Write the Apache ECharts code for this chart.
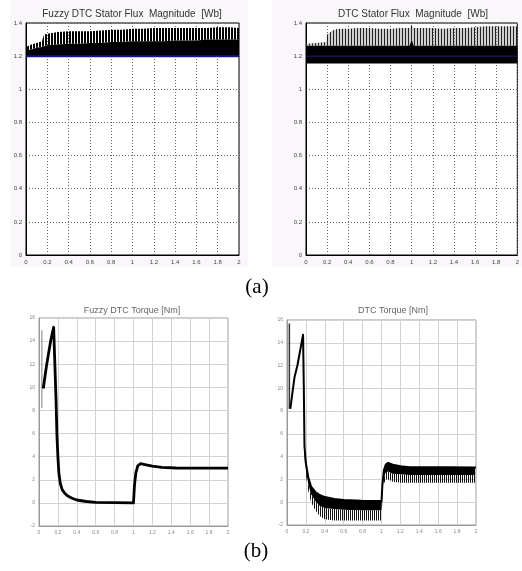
<!DOCTYPE html>
<html>
<head>
<meta charset="utf-8">
<script src="https://cdn.jsdelivr.net/npm/echarts@6/dist/echarts.min.js"></script>
<style>
html,body{margin:0;padding:0;background:#fff;}
#chart{width:522px;height:571px;}
</style>
</head>
<body>
<div id="chart"></div>
<script>
// ---------- DATA ----------
// (a) stator flux magnitude [Wb], time in s
const fluxXTicks = [0, 2, 0.2];       // min, max, step
const fluxYTicks = [0, 1.4, 0.2];
const fluxRef = 1.2;                  // flux reference (blue line)

// Fuzzy DTC flux: band from the reference up to a dense top and a spike envelope
const fzFluxT     = [0, 0.05, 0.1, 0.15, 0.17, 0.2, 0.3, 0.4, 0.5, 0.6, 0.7, 0.8, 0.9, 1.0, 1.1, 1.2, 1.3, 1.4, 1.5, 1.6, 1.7, 1.8, 1.9, 2.0];
const fzFluxLow   = [1.2, 1.2, 1.2, 1.2, 1.2, 1.2, 1.2, 1.2, 1.2, 1.2, 1.2, 1.2, 1.2, 1.2, 1.2, 1.2, 1.2, 1.2, 1.2, 1.2, 1.2, 1.2, 1.2, 1.2];
const fzFluxDense = [1.235, 1.24, 1.25, 1.255, 1.26, 1.265, 1.27, 1.275, 1.275, 1.28, 1.28, 1.285, 1.285, 1.29, 1.29, 1.29, 1.29, 1.295, 1.295, 1.295, 1.3, 1.3, 1.3, 1.3];
const fzFluxPeak  = [1.255, 1.27, 1.28, 1.29, 1.33, 1.335, 1.345, 1.35, 1.35, 1.35, 1.355, 1.36, 1.36, 1.365, 1.365, 1.37, 1.37, 1.37, 1.37, 1.37, 1.37, 1.375, 1.375, 1.37];

// Conventional DTC flux: wide band around the reference plus spikes
const dtcFluxT     = [0, 0.1, 0.19, 0.2, 0.25, 0.3, 0.4, 0.5, 0.6, 0.7, 0.8, 0.9, 0.98, 1.0, 1.02, 1.1, 1.2, 1.3, 1.4, 1.5, 1.6, 1.7, 1.8, 1.9, 2.0];
const dtcFluxLow   = [1.155, 1.155, 1.155, 1.155, 1.155, 1.155, 1.155, 1.155, 1.155, 1.155, 1.155, 1.155, 1.155, 1.155, 1.155, 1.155, 1.155, 1.155, 1.155, 1.155, 1.155, 1.155, 1.155, 1.155, 1.155];
const dtcFluxDense = [1.262, 1.262, 1.262, 1.262, 1.262, 1.262, 1.262, 1.262, 1.262, 1.262, 1.262, 1.262, 1.262, 1.3, 1.262, 1.262, 1.262, 1.262, 1.262, 1.262, 1.262, 1.262, 1.262, 1.262, 1.262];
const dtcFluxPeak  = [1.275, 1.28, 1.285, 1.33, 1.355, 1.365, 1.365, 1.37, 1.37, 1.365, 1.365, 1.37, 1.37, 1.39, 1.37, 1.37, 1.37, 1.365, 1.37, 1.37, 1.375, 1.38, 1.38, 1.38, 1.38];

// (b) electromagnetic torque [Nm]
const torqXTicks = [0, 2, 0.2];
const torqYTicks = [-2, 16, 2];

const fzTorqInitT = [0.03, 0.03];
const fzTorqInitV = [14.95, 8.2];
const fzTorqT = [0.045, 0.08, 0.125, 0.155, 0.168, 0.18, 0.19, 0.2, 0.21, 0.225, 0.245, 0.27, 0.3, 0.35, 0.4, 0.5, 0.6, 0.8, 1.0, 1.01, 1.025, 1.045, 1.075, 1.12, 1.2, 1.3, 1.45, 1.6, 2.0];
const fzTorqV = [9.9, 11.9, 14.1, 15.2, 15.1, 9.0, 5.8, 4.0, 2.6, 1.7, 1.15, 0.85, 0.62, 0.4, 0.25, 0.12, 0.05, 0.02, 0.0, 1.5, 2.6, 3.2, 3.4, 3.32, 3.18, 3.08, 3.02, 3.0, 3.0];

const dtcTorqInitT = [0.025, 0.025];
const dtcTorqInitV = [15.7, 8.2];
const dtcTorqT  = [0.035, 0.08, 0.11, 0.17, 0.178, 0.185, 0.2, 0.225, 0.255, 0.3, 0.345, 0.4, 0.5, 0.6, 0.79, 1.0, 1.01, 1.025, 1.045, 1.07, 1.12, 1.2, 1.3, 1.5, 1.7, 2.0];
const dtcTorqUp = [8.2, 11.0, 12.0, 14.7, 10.0, 4.9, 3.4, 2.2, 1.36, 0.9, 0.63, 0.45, 0.28, 0.2, 0.13, 0.1, 1.6, 2.8, 3.3, 3.45, 3.3, 3.15, 3.08, 3.06, 3.06, 3.05];
// ripple band of the conventional DTC torque
const dtcBandT     = [0.185, 0.2, 0.225, 0.255, 0.3, 0.345, 0.4, 0.5, 0.6, 0.79, 0.995, 1.0, 1.01, 1.025, 1.045, 1.07, 1.12, 1.2, 1.3, 1.5, 1.7, 1.99];
const dtcBandTop   = [4.9, 3.4, 2.2, 1.36, 0.9, 0.63, 0.45, 0.28, 0.2, 0.13, 0.1, 0.1, 1.6, 2.8, 3.3, 3.45, 3.3, 3.15, 3.08, 3.06, 3.06, 3.05];
const dtcBandDense = [4.5, 2.9, 1.6, 0.7, 0.1, -0.3, -0.5, -0.6, -0.65, -0.7, -0.7, -0.7, 1.0, 2.2, 2.6, 2.7, 2.5, 2.45, 2.4, 2.4, 2.4, 2.4];
const dtcBandSpike = [4.0, 2.4, 1.0, 0.0, -0.7, -1.2, -1.5, -1.6, -1.6, -1.6, -1.6, -1.6, 0.5, 1.6, 2.0, 2.0, 1.8, 1.7, 1.7, 1.7, 1.7, 1.7];

const titles = ['Fuzzy DTC Stator Flux  Magnitude  [Wb]', 'DTC Stator Flux  Magnitude  [Wb]', 'Fuzzy DTC Torque [Nm]', 'DTC Torque [Nm]'];
const captions = ['(a)', '(b)'];

// ---------- helpers ----------
const pairs = (ts, vs) => ts.map((t, i) => [t, vs[i]]);
function stripes(color, period, w, bg) {
  const c = document.createElement('canvas');
  c.width = period; c.height = 4;
  const ctx = c.getContext('2d');
  if (bg) { ctx.fillStyle = bg; ctx.fillRect(0, 0, period, 4); }
  ctx.fillStyle = color; ctx.fillRect(0, 0, w, 4);
  return { image: c, repeat: 'repeat' };
}
const FONT = 'Liberation Sans, Arial, sans-serif';

function fluxX(i) {
  return { type: 'value', gridIndex: i, min: fluxXTicks[0], max: fluxXTicks[1], interval: fluxXTicks[2],
    axisLine: { show: true, onZero: false, lineStyle: { color: '#000', width: 1 } },
    axisTick: { show: false },
    axisLabel: { fontSize: 6, color: '#444', margin: 4, fontFamily: FONT, showMaxLabel: true, showMinLabel: true },
    splitLine: { show: true, lineStyle: { color: '#666', type: [1, 2], width: 1 } } };
}
function fluxY(i) {
  return { type: 'value', gridIndex: i, min: fluxYTicks[0], max: fluxYTicks[1], interval: fluxYTicks[2],
    axisLine: { show: true, lineStyle: { color: '#000', width: 1 } },
    axisTick: { show: false },
    axisLabel: { fontSize: 6, color: '#444', margin: 4, fontFamily: FONT },
    splitLine: { show: true, lineStyle: { color: '#666', type: [1, 2], width: 1 } } };
}
function torqX(i) {
  return { type: 'value', gridIndex: i, min: torqXTicks[0], max: torqXTicks[1], interval: torqXTicks[2],
    axisLine: { show: true, onZero: false, lineStyle: { color: '#999', width: 1 } },
    axisTick: { show: false },
    axisLabel: { fontSize: 5, color: '#888', margin: 4, fontFamily: FONT },
    splitLine: { show: true, lineStyle: { color: '#d2d2d2', width: 1 } } };
}
function torqY(i) {
  return { type: 'value', gridIndex: i, min: torqYTicks[0], max: torqYTicks[1], interval: torqYTicks[2],
    axisLine: { show: true, onZero: false, lineStyle: { color: '#999', width: 1 } },
    axisTick: { show: false },
    axisLabel: { fontSize: 5, color: '#888', margin: 4, fontFamily: FONT },
    splitLine: { show: true, lineStyle: { color: '#d2d2d2', width: 1 } } };
}
// filled band between two value arrays, drawn through the axis scales (api.coord)
function band(name, idx, ts, hi, lo, fill) {
  return { name, type: 'custom', xAxisIndex: idx, yAxisIndex: idx, silent: true, z: 2,
    data: [[ts[0], lo[0]]],
    renderItem: function (params, api) {
      const pts = [];
      for (let i = 0; i < ts.length; i++) pts.push(api.coord([ts[i], hi[i]]));
      for (let i = ts.length - 1; i >= 0; i--) pts.push(api.coord([ts[i], lo[i]]));
      return { type: 'polygon', shape: { points: pts }, style: { fill: fill, stroke: null } };
    } };
}
function line(name, idx, data, color, width, z) {
  return { name, type: 'line', xAxisIndex: idx, yAxisIndex: idx, data, symbol: 'none', showSymbol: false,
    lineStyle: { color, width, join: 'round' }, silent: true, z: z || 3 };
}

const chart = echarts.init(document.getElementById('chart'), null, { renderer: 'canvas' });
const option = {
  animation: false,
  backgroundColor: '#fff',
  graphic: [
    { type: 'rect', z: -10, shape: { x: 10, y: 0, width: 238, height: 267 }, style: { fill: '#faf7fa' } },
    { type: 'rect', z: -10, shape: { x: 272, y: 0, width: 250, height: 267 }, style: { fill: '#faf7fa' } },
    { type: 'text', x: 132, y: 14, style: { text: titles[0], font: '10px ' + FONT, fill: '#333', textAlign: 'center', textVerticalAlign: 'middle', align: 'center', verticalAlign: 'middle' } },
    { type: 'text', x: 413, y: 14, style: { text: titles[1], font: '10px ' + FONT, fill: '#333', textAlign: 'center', textVerticalAlign: 'middle', align: 'center', verticalAlign: 'middle' } },
    { type: 'text', x: 132, y: 311, style: { text: titles[2], font: '9px ' + FONT, fill: '#666', textAlign: 'center', textVerticalAlign: 'middle', align: 'center', verticalAlign: 'middle' } },
    { type: 'text', x: 393, y: 311, style: { text: titles[3], font: '9px ' + FONT, fill: '#666', textAlign: 'center', textVerticalAlign: 'middle', align: 'center', verticalAlign: 'middle' } },
    { type: 'text', x: 257, y: 287, style: { text: captions[0], font: '21px "Liberation Serif", "Times New Roman", serif', fill: '#000', textAlign: 'center', textVerticalAlign: 'middle', align: 'center', verticalAlign: 'middle' } },
    { type: 'text', x: 256, y: 551, style: { text: captions[1], font: '21px "Liberation Serif", "Times New Roman", serif', fill: '#000', textAlign: 'center', textVerticalAlign: 'middle', align: 'center', verticalAlign: 'middle' } }
  ],
  grid: [
    { left: 26, top: 23, width: 213, height: 232, show: true, backgroundColor: '#fff', borderColor: '#000', borderWidth: 1 },
    { left: 306, top: 23, width: 214, height: 232, show: true, backgroundColor: '#fff', borderColor: '#000', borderWidth: 1 },
    { left: 39, top: 318, width: 189, height: 208, show: true, backgroundColor: '#fff', borderColor: '#999', borderWidth: 1 },
    { left: 287, top: 320, width: 189, height: 205, show: true, backgroundColor: '#fff', borderColor: '#999', borderWidth: 1 }
  ],
  xAxis: [fluxX(0), fluxX(1), torqX(2), torqX(3)],
  yAxis: [fluxY(0), fluxY(1), torqY(2), torqY(3)],
  series: [
    // (a) fuzzy flux
    band('fzSpike', 0, fzFluxT, fzFluxPeak, fzFluxDense, stripes('#000', 3, 2)),
    band('fzDense', 0, fzFluxT, fzFluxDense, fzFluxLow, '#000'),
    line('fzRef', 0, [[fluxXTicks[0], fluxRef], [fluxXTicks[1], fluxRef]], '#14148c', 2, 4),
    // (a) DTC flux
    band('dtcSpike', 1, dtcFluxT, dtcFluxPeak, dtcFluxDense, stripes('#222', 3, 1, 'rgba(120,120,120,0.35)')),
    band('dtcDense', 1, dtcFluxT, dtcFluxDense, dtcFluxLow, '#000'),
    line('dtcRef', 1, [[fluxXTicks[0], fluxRef], [fluxXTicks[1], fluxRef]], '#1c1c78', 1, 4),
    // (b) fuzzy torque
    line('fzInit', 2, pairs(fzTorqInitT, fzTorqInitV), '#aaa', 1.5),
    line('fzTorque', 2, pairs(fzTorqT, fzTorqV), '#000', 2.8),
    // (b) DTC torque
    band('tbSpike', 3, dtcBandT, dtcBandDense, dtcBandSpike, stripes('#111', 2, 1)),
    band('tbDense', 3, dtcBandT, dtcBandTop, dtcBandDense, '#000'),
    line('dtcInit', 3, pairs(dtcTorqInitT, dtcTorqInitV), '#333', 1.5),
    line('dtcTorque', 3, pairs(dtcTorqT, dtcTorqUp), '#000', 2)
  ]
};
chart.setOption(option);
</script>
</body>
</html>
